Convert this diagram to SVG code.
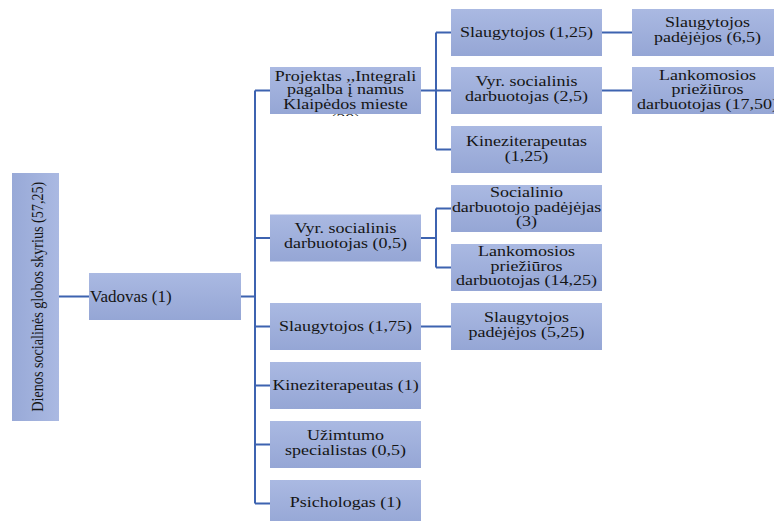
<svg xmlns="http://www.w3.org/2000/svg" width="774" height="521" viewBox="0 0 774 521">
<defs>
<linearGradient id="g" x1="0" y1="0" x2="0" y2="1">
<stop offset="0" stop-color="#AAB9E2"/>
<stop offset="1" stop-color="#95A6D5"/>
</linearGradient>
<linearGradient id="gr" x1="1" y1="0" x2="0" y2="0">
<stop offset="0" stop-color="#AAB9E2"/>
<stop offset="1" stop-color="#98A9D7"/>
</linearGradient>
<clipPath id="cp"><rect x="270" y="67" width="151" height="49"/></clipPath>
</defs>
<style>
.box{fill:url(#g);}
.t{font-family:"Liberation Serif","Times New Roman",serif;font-size:15px;fill:#151515;text-anchor:middle;}
.c{fill:none;stroke:#3D63B0;stroke-width:2;}
</style>
<rect width="774" height="521" fill="#ffffff"/>
<g id="connectors">
<path class="c" d="M59,296.5H89 M241,296.5H255 M255,90.5V503.5 M255,90.5H270 M255,238H270 M255,326.5H270 M255,385.5H270 M255,444.5H270 M255,503.5H270"/>
<path class="c" d="M421,90.5H451 M436,32.5V149.5 M436,32.5H451 M436,149.5H451"/>
<path class="c" d="M421,238H436 M436,208.5V267.5 M436,208.5H451 M436,267.5H451"/>
<path class="c" d="M421,326.5H451 M602,32.5H632 M602,90.5H632"/>
</g>
<g id="root">
<rect x="12" y="173" width="47" height="248" fill="url(#gr)"/>
<text transform="translate(42.5,296.7) rotate(-90)" x="0" y="0" style="font-family:'Liberation Serif','Times New Roman',serif;font-size:16px;fill:#151515;text-anchor:middle" textLength="230" lengthAdjust="spacingAndGlyphs">Dienos socialinės globos skyrius (57,25)</text>
</g>
<g id="vadovas">
<rect class="box" x="89" y="273" width="152" height="47"/>
<text x="90" y="301.7" style="font-family:'Liberation Serif','Times New Roman',serif;font-size:17px;fill:#151515">Vadovas (1)</text>
</g>
<g id="projektas">
<rect class="box" x="270" y="67" width="151" height="47"/>
<g clip-path="url(#cp)">
<text class="t" transform="translate(345.5,0) scale(1.2,1)"><tspan x="0" y="80.7">Projektas ,,Integrali</tspan><tspan x="0" y="94.5">pagalba į namus</tspan><tspan x="0" y="109">Klaipėdos mieste</tspan><tspan x="0" y="124">(29)</tspan></text>
</g>
</g>
<g id="vyr-soc-05">
<rect class="box" x="270" y="214.5" width="151" height="47"/>
<text class="t" transform="translate(345.5,0) scale(1.2,1)"><tspan x="0" y="233.3">Vyr. socialinis</tspan><tspan x="0" y="248.5">darbuotojas (0,5)</tspan></text>
</g>
<g id="slaugytojos-175">
<rect class="box" x="270" y="303" width="151" height="47"/>
<text class="t" transform="translate(345.5,0) scale(1.2,1)" x="0" y="331">Slaugytojos (1,75)</text>
</g>
<g id="kinezi-1">
<rect class="box" x="270" y="362" width="151" height="47"/>
<text class="t" transform="translate(345.5,0) scale(1.2,1)" x="0" y="390">Kineziterapeutas (1)</text>
</g>
<g id="uzimtumo">
<rect class="box" x="270" y="421" width="151" height="47"/>
<text class="t" transform="translate(345.5,0) scale(1.2,1)"><tspan x="0" y="440">Užimtumo</tspan><tspan x="0" y="455.5">specialistas (0,5)</tspan></text>
</g>
<g id="psichologas">
<rect class="box" x="270" y="480" width="151" height="47"/>
<text class="t" transform="translate(345.5,0) scale(1.2,1)" x="0" y="507">Psichologas (1)</text>
</g>
<g id="slaugytojos-125">
<rect class="box" x="451" y="9" width="151" height="47"/>
<text class="t" transform="translate(526.5,0) scale(1.2,1)" x="0" y="37">Slaugytojos (1,25)</text>
</g>
<g id="vyr-soc-25">
<rect class="box" x="451" y="67" width="151" height="47"/>
<text class="t" transform="translate(526.5,0) scale(1.2,1)"><tspan x="0" y="86">Vyr. socialinis</tspan><tspan x="0" y="101.5">darbuotojas (2,5)</tspan></text>
</g>
<g id="kinezi-125">
<rect class="box" x="451" y="126" width="151" height="47"/>
<text class="t" transform="translate(526.5,0) scale(1.2,1)"><tspan x="0" y="146">Kineziterapeutas</tspan><tspan x="0" y="161.5">(1,25)</tspan></text>
</g>
<g id="socialinio">
<rect class="box" x="451" y="185" width="151" height="47"/>
<text class="t" transform="translate(526.5,0) scale(1.2,1)"><tspan x="0" y="197.5">Socialinio</tspan><tspan x="0" y="212">darbuotojo padėjėjas</tspan><tspan x="0" y="226.5">(3)</tspan></text>
</g>
<g id="lankomosios-1425">
<rect class="box" x="451" y="244" width="151" height="47"/>
<text class="t" transform="translate(526.5,0) scale(1.2,1)"><tspan x="0" y="256.5">Lankomosios</tspan><tspan x="0" y="271">priežiūros</tspan><tspan x="0" y="285.5">darbuotojas (14,25)</tspan></text>
</g>
<g id="slaug-pad-525">
<rect class="box" x="451" y="303" width="151" height="47"/>
<text class="t" transform="translate(526.5,0) scale(1.2,1)"><tspan x="0" y="322">Slaugytojos</tspan><tspan x="0" y="337.5">padėjėjos (5,25)</tspan></text>
</g>
<g id="slaug-pad-65">
<rect class="box" x="632" y="9" width="151" height="47"/>
<text class="t" transform="translate(707.5,0) scale(1.2,1)"><tspan x="0" y="27">Slaugytojos</tspan><tspan x="0" y="42.5">padėjėjos (6,5)</tspan></text>
</g>
<g id="lankomosios-1750">
<rect class="box" x="632" y="67" width="151" height="47"/>
<text class="t" transform="translate(707.5,0) scale(1.2,1)"><tspan x="0" y="80">Lankomosios</tspan><tspan x="0" y="94.5">priežiūros</tspan><tspan x="0" y="109">darbuotojas (17,50)</tspan></text>
</g>
</svg>
